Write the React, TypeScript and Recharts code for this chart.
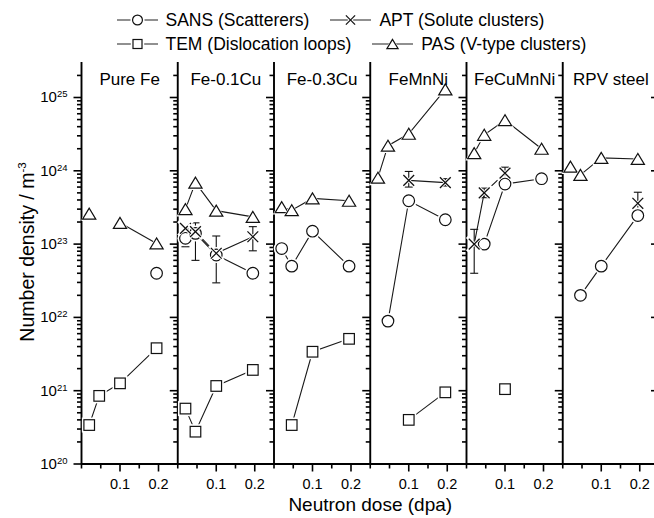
import React from 'react';
import {
  ComposedChart,
  Line,
  XAxis,
  YAxis,
  ReferenceLine,
  ReferenceArea,
  ErrorBar,
  Legend,
  Label,
} from 'recharts';

// ---------------- data ----------------
const panelNames = ['Pure Fe', 'Fe-0.1Cu', 'Fe-0.3Cu', 'FeMnNi', 'FeCuMnNi', 'RPV steel'];
const doses = [0.02, 0.046, 0.1, 0.195];

const sansDensity = [
  [null, null, null, 4.0e22],
  [1.2e23, 1.4e23, 7.1e22, 4.0e22],
  [8.7e22, 5.0e22, 1.5e23, 5.0e22],
  [null, 8.9e21, 3.9e23, 2.15e23],
  [null, 1.0e23, 6.6e23, 7.8e23],
  [null, 2.0e22, 5.0e22, 2.45e23],
];
const aptDensity = [
  [null, null, null, null],
  [1.64e23, 1.48e23, 7.5e22, 1.26e23],
  [null, null, null, null],
  [null, null, 7.4e23, 6.9e23],
  [1.0e23, 5.0e23, 9.3e23, null],
  [null, null, null, 3.6e23],
];
const temDensity = [
  [3.4e20, 8.5e20, 1.26e21, 3.8e21],
  [5.7e20, 2.76e20, 1.16e21, 1.92e21],
  [null, 3.4e20, 3.4e21, 5.1e21],
  [null, null, 4.0e20, 9.5e20],
  [null, null, 1.05e21, null],
  [null, null, null, null],
];
const pasDensity = [
  [2.6e23, null, 1.95e23, 1.02e23],
  [3.0e23, 6.9e23, 2.86e23, 2.35e23],
  [3.2e23, 2.9e23, 4.2e23, 3.9e23],
  [8.05e23, 2.2e24, 3.2e24, 1.29e25],
  [1.74e24, 3.1e24, 4.9e24, 2.0e24],
  [1.14e24, 8.8e23, 1.5e24, 1.45e24],
];
// error bar ends [low, high]
const sansRange: any[][] = [
  [null, null, null, null],
  [[9.2e22, 1.5e23], null, null, null],
  [null, null, null, null],
  [null, null, null, null],
  [null, null, null, null],
  [null, null, null, [2.15e23, 2.8e23]],
];
const aptRange: any[][] = [
  [null, null, null, null],
  [null, [6.0e22, 1.95e23], [2.96e22, 1.29e23], [8.1e22, 1.73e23]],
  [null, null, null, null],
  [null, null, [6.0e23, 9.8e23], [6.2e23, 7.8e23]],
  [[4.0e22, 1.59e23], [4.3e23, 5.8e23], [7.6e23, 1.12e24], null],
  [null, null, null, [2.6e23, 5.1e23]],
];

const legendLabels = ['SANS (Scatterers)', 'APT (Solute clusters)', 'TEM (Dislocation loops)', 'PAS (V-type clusters)'];
const xTickLocal = [0, 0.05, 0.1, 0.15, 0.2];
const xTickLabels = ['0.1', '0.2'];
const yDecades = [20, 21, 22, 23, 24, 25];
const yMinorMultipliers = [2, 3, 4, 5, 6, 7, 8, 9];

// ---------------- derived ----------------
const PANEL_SPAN = 0.25;
const X_MAX = panelNames.length * PANEL_SPAN;
const Y_MIN = 1e20;
const Y_MAX = 3.05e25;
const FONT = '"Liberation Sans", Arial, Helvetica, sans-serif';
const PLOT_W = 577.5;
const UNIT_PER_PX = X_MAX / PLOT_W;

const toDelta = (v: number | null, r: any) => (v == null || !r ? null : [v - r[0], r[1] - v]);

const rows = panelNames.map((_, k) =>
  doses.map((d, i) => ({
    x: Math.round((k * PANEL_SPAN + d) * 10000) / 10000,
    sans: sansDensity[k][i],
    apt: aptDensity[k][i],
    tem: temDensity[k][i],
    pas: pasDensity[k][i],
    sansErr: toDelta(sansDensity[k][i], sansRange[k][i]),
    aptErr: toDelta(aptDensity[k][i], aptRange[k][i]),
  }))
);

const xTicks: number[] = [];
panelNames.forEach((_, k) =>
  xTickLocal.forEach((t) => xTicks.push(Math.round((k * PANEL_SPAN + t) * 1000) / 1000))
);
xTicks.push(X_MAX);

const majorY = new Set<number>();
const yTicks: number[] = [];
yDecades.forEach((e) => {
  const base = Number(`1e${e}`);
  majorY.add(base);
  yTicks.push(base);
  yMinorMultipliers.forEach((m) => {
    const v = Number(`${m}e${e}`);
    if (v < Y_MAX * 0.98) yTicks.push(v);
  });
});

const sepTicks: any[] = [];
for (let k = 1; k <= panelNames.length; k++) {
  yTicks.forEach((v) => sepTicks.push({ x: k * PANEL_SPAN, v, major: majorY.has(v) }));
}

const seriesDefs = [
  { key: 'tem', marker: 'square', err: null },
  { key: 'pas', marker: 'triangle', err: null },
  { key: 'sans', marker: 'circle', err: 'sansErr' },
  { key: 'apt', marker: 'cross', err: 'aptErr' },
];
const legendMarkers = ['circle', 'cross', 'square', 'triangle'];

// ---------------- drawing helpers ----------------
const INK = '#111';
const TICK_W = 1.6;
const AXIS_W = 1.9;

function Marker({ kind, cx, cy, s = 1 }: { kind: string; cx: number; cy: number; s?: number }) {
  if (cx == null || cy == null || isNaN(cx) || isNaN(cy)) return <g />;
  if (kind === 'circle') {
    const r = 5.8 * s;
    return (
      <g>
        <circle cx={cx} cy={cy} r={r + 2.2} fill="#fff" />
        <circle cx={cx} cy={cy} r={r} fill="#fff" stroke={INK} strokeWidth={1.2} />
      </g>
    );
  }
  if (kind === 'square') {
    const h = 5.3 * s;
    const H = h + 2.2;
    return (
      <g>
        <rect x={cx - H} y={cy - H} width={2 * H} height={2 * H} fill="#fff" />
        <rect x={cx - h} y={cy - h} width={2 * h} height={2 * h} fill="#fff" stroke={INK} strokeWidth={1.2} />
      </g>
    );
  }
  if (kind === 'triangle') {
    const w = 6.6 * s;
    const ht = 11 * s;
    const pts = (f: number) =>
      `${cx},${cy - (ht / 2) * f - (f - 1) * 1.5} ${cx - w * f},${cy + (ht / 2) * f} ${cx + w * f},${cy + (ht / 2) * f}`;
    return (
      <g>
        <polygon points={pts(1.35)} fill="#fff" />
        <polygon points={pts(1)} fill="#fff" stroke={INK} strokeWidth={1.2} strokeLinejoin="miter" />
      </g>
    );
  }
  // cross
  const a = 5.4 * s;
  const A = a + 1.8;
  return (
    <g>
      <line x1={cx - A} y1={cy - A} x2={cx + A} y2={cy + A} stroke="#fff" strokeWidth={3} />
      <line x1={cx - A} y1={cy + A} x2={cx + A} y2={cy - A} stroke="#fff" strokeWidth={3} />
      <line x1={cx - a} y1={cy - a} x2={cx + a} y2={cy + a} stroke={INK} strokeWidth={1.25} />
      <line x1={cx - a} y1={cy + a} x2={cx + a} y2={cy - a} stroke={INK} strokeWidth={1.25} />
    </g>
  );
}

const localOf = (v: number) => {
  const k = Math.floor(v / PANEL_SPAN + 1e-6);
  return Math.round((v - k * PANEL_SPAN) * 1000) / 1000;
};

const BottomTick = (props: any) => {
  const { x, y, payload } = props;
  const local = localOf(payload.value);
  const idx = [0.1, 0.2].findIndex((t) => Math.abs(t - local) < 1e-6);
  const label = idx >= 0 ? xTickLabels[idx] : null;
  return (
    <g>
      <path d={`M${x},${y}V${y + (label ? 7.5 : 4.5)}`} stroke="#000" strokeWidth={TICK_W} fill="none" />
      {label && (
        <text x={x} y={y + 25} textAnchor="middle" fontSize={14.5} fill="#000" fontFamily={FONT}>
          {label}
        </text>
      )}
    </g>
  );
};

const TopTick = (props: any) => {
  const { x, y, payload } = props;
  const local = localOf(payload.value);
  const major = Math.abs(local - 0.1) < 1e-6 || Math.abs(local - 0.2) < 1e-6;
  return <path d={`M${x},${y}V${y + (major ? 6 : 4.5)}`} stroke="#000" strokeWidth={TICK_W} fill="none" />;
};

const LeftTick = (props: any) => {
  const { x, y, payload } = props;
  const v = payload.value;
  const major = majorY.has(v);
  const exp = Math.round(Math.log10(v));
  return (
    <g>
      <path d={`M${x - (major ? 8 : 4.5)},${y}H${x}`} stroke="#000" strokeWidth={TICK_W} fill="none" />
      {major && (
        <text x={x - 14} y={y + 5} textAnchor="end" fontSize={15} fill="#000" fontFamily={FONT}>
          10
          <tspan dy={-5} fontSize={9.5}>
            {exp}
          </tspan>
        </text>
      )}
    </g>
  );
};

const YTitle = (props: any) => {
  const vb = props.viewBox || { x: 0, y: 62, width: 81, height: 402 };
  const x = vb.x + 34;
  const y = vb.y + vb.height / 2 - 11;
  return (
    <text
      x={x}
      y={y}
      transform={`rotate(-90, ${x}, ${y})`}
      textAnchor="middle"
      fontSize={19.5}
      fill="#000"
      fontFamily={FONT}
    >
      Number density / m
      <tspan dy={-8} fontSize={11.5}>
        -3
      </tspan>
    </text>
  );
};

const renderLegend = () => {
  const rowsIdx = [
    [0, 1],
    [2, 3],
  ];
  return (
    <div style={{ position: 'relative', width: 654, height: 58, fontFamily: FONT, fontSize: 17.5, color: '#000' }}>
      {rowsIdx.map((row, r) => (
        <div
          key={r}
          style={{
            position: 'absolute',
            left: 116.5,
            top: r === 0 ? 9 : 33,
            height: 22,
            display: 'flex',
            alignItems: 'center',
            whiteSpace: 'nowrap',
          }}
        >
          {row.map((i) => (
            <div key={i} style={{ display: 'flex', alignItems: 'center', marginRight: 21 }}>
              <svg width={41} height={18} style={{ overflow: 'visible' }}>
                <line x1={0} x2={41} y1={9} y2={9} stroke="#222" strokeWidth={1.2} />
                <Marker kind={legendMarkers[i]} cx={20.5} cy={9} s={0.85} />
              </svg>
              <span style={{ marginLeft: 8, lineHeight: '22px' }}>{legendLabels[i]}</span>
            </div>
          ))}
        </div>
      ))}
    </div>
  );
};

export default function App() {
  return (
    <div
      style={{
        position: 'absolute',
        left: 0,
        top: 0,
        width: 654,
        height: 518,
        overflow: 'hidden',
        background: '#fff',
        fontFamily: FONT,
      }}
    >
      <ComposedChart width={660} height={518} margin={{ top: 62, right: 1, bottom: 0, left: 0 }}>
        <XAxis
          xAxisId={0}
          type="number"
          dataKey="x"
          domain={[0, X_MAX]}
          ticks={xTicks}
          interval={0}
          height={54}
          tickSize={0}
          tickMargin={0}
          tickLine={false}
          tick={<BottomTick />}
          axisLine={{ stroke: '#000', strokeWidth: AXIS_W }}
          allowDataOverflow
        >
          <Label value="Neutron dose (dpa)" position="insideBottom" offset={7} fontSize={19} fill="#000" fontFamily={FONT} />
        </XAxis>
        <XAxis
          xAxisId="top"
          orientation="top"
          type="number"
          domain={[0, X_MAX]}
          ticks={xTicks}
          interval={0}
          height={0}
          tickSize={0}
          tickMargin={0}
          tickLine={false}
          tick={<TopTick />}
          axisLine={{ stroke: '#000', strokeWidth: AXIS_W }}
          allowDataOverflow
        />
        <YAxis
          yAxisId={0}
          type="number"
          scale="log"
          domain={[Y_MIN, Y_MAX]}
          ticks={yTicks}
          interval={0}
          width={81.5}
          tickSize={0}
          tickMargin={0}
          tickLine={false}
          tick={<LeftTick />}
          axisLine={{ stroke: '#000', strokeWidth: AXIS_W }}
          allowDataOverflow
        >
          <Label content={<YTitle />} />
        </YAxis>

        {panelNames.map((name, k) => (
          <ReferenceArea
            key={`area-${k}`}
            x1={k * PANEL_SPAN}
            x2={(k + 1) * PANEL_SPAN}
            y1={Y_MIN}
            y2={Y_MAX}
            fill="#fff"
            fillOpacity={0}
            stroke="none"
            label={{ value: name, position: 'insideTop', offset: 11, fontSize: 17, fill: '#000', fontFamily: FONT }}
          />
        ))}

        {panelNames.map((_, k) => (
          <ReferenceLine key={`sep-${k}`} x={(k + 1) * PANEL_SPAN} stroke="#000" strokeWidth={AXIS_W} />
        ))}

        {sepTicks.map((t, i) => (
          <ReferenceLine
            key={`st-${i}`}
            segment={[
              { x: t.x - (t.major ? 8 : 4.5) * UNIT_PER_PX, y: t.v },
              { x: t.x, y: t.v },
            ]}
            stroke="#000"
            strokeWidth={TICK_W}
            ifOverflow="visible"
          />
        ))}

        {panelNames.map((_, k) =>
          seriesDefs
            .filter((s) => rows[k].some((r: any) => r[s.key] != null))
            .map((s) => (
              <Line
                key={`${s.key}-${k}`}
                data={rows[k]}
                dataKey={s.key}
                type="linear"
                stroke="#1a1a1a"
                strokeWidth={1.1}
                connectNulls={false}
                isAnimationActive={false}
                activeDot={false}
                legendType="none"
                dot={(p: any) => <Marker key={`${s.key}-${k}-${p.index}`} kind={s.marker} cx={p.cx} cy={p.cy} />}
              >
                {s.err && <ErrorBar dataKey={s.err} direction="y" width={4} stroke={INK} strokeWidth={1.1} />}
              </Line>
            ))
        )}

        <Legend
          verticalAlign="middle"
          align="center"
          layout="horizontal"
          wrapperStyle={{ left: 0, top: 0, width: 654, height: 58 }}
          content={renderLegend}
        />
      </ComposedChart>
    </div>
  );
}
